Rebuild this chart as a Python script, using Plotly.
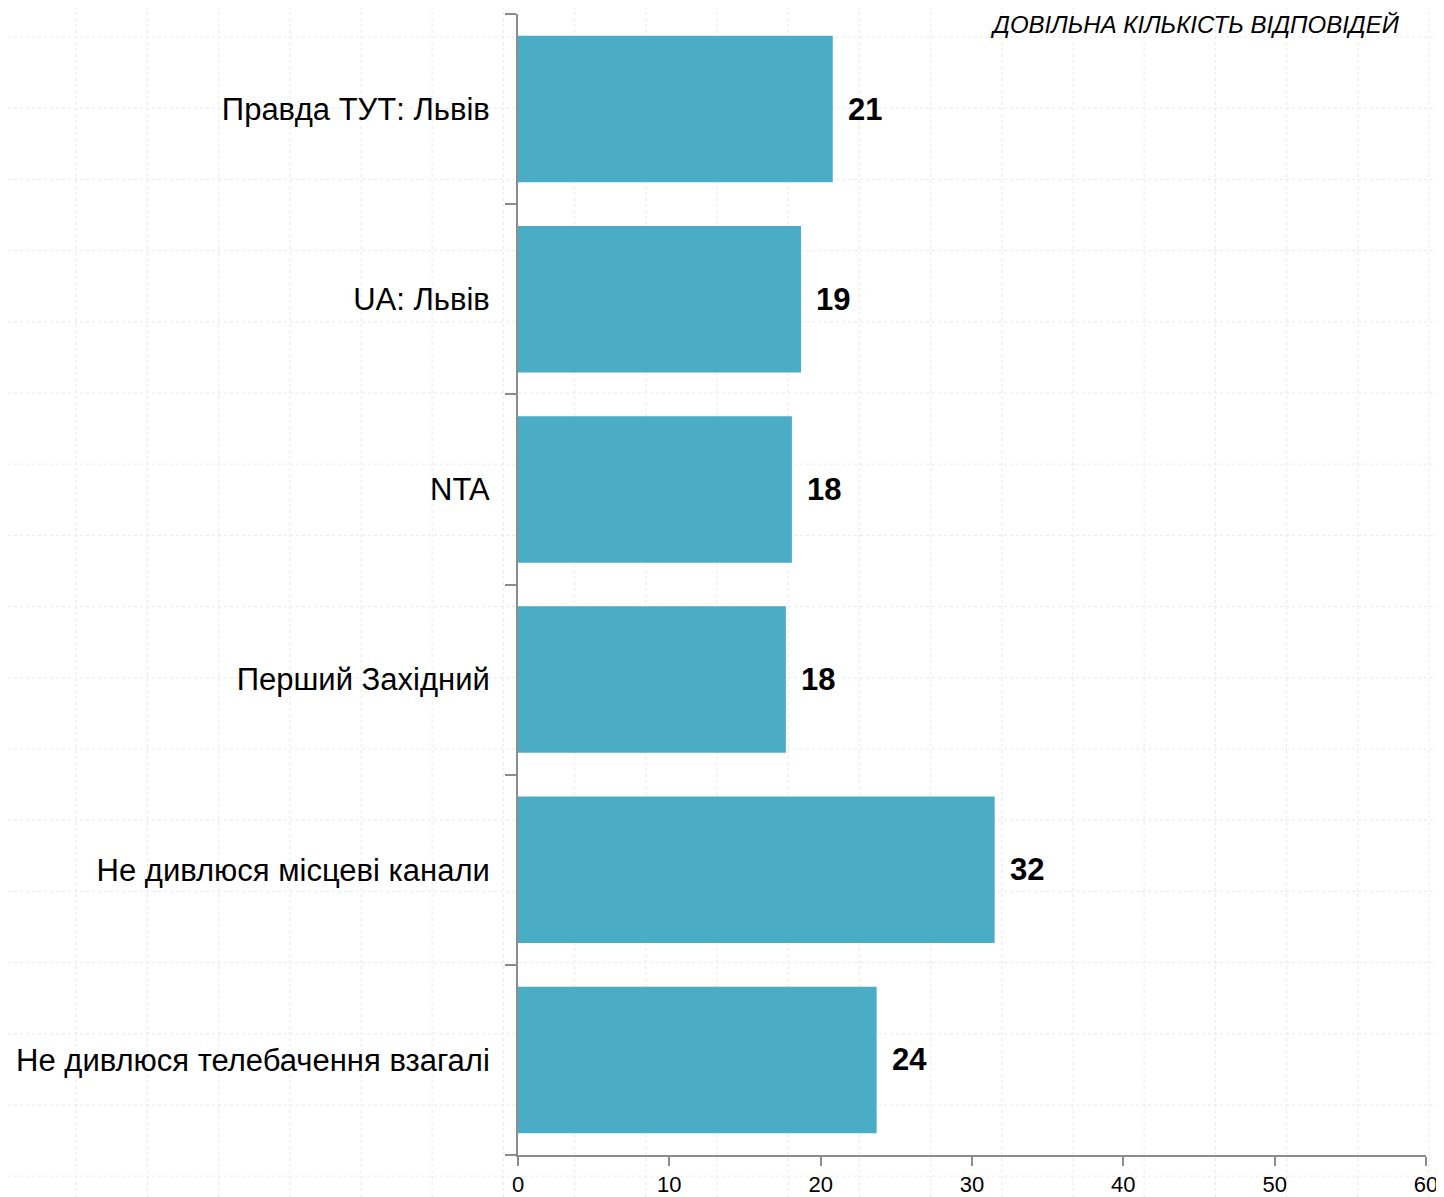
import plotly.graph_objects as go

categories = [
    "Правда ТУТ: Львів",
    "UA: Львів",
    "NTA",
    "Перший Західний",
    "Не дивлюся місцеві канали",
    "Не дивлюся телебачення взагалі",
]
values = [20.8, 18.7, 18.1, 17.7, 31.5, 23.7]
value_labels = ["21", "19", "18", "18", "32", "24"]
x_ticks = [0, 10, 20, 30, 40, 50, 60]
title_text = "ДОВІЛЬНА КІЛЬКІСТЬ ВІДПОВІДЕЙ"

FONT = "Liberation Sans Narrow, Arial Narrow, Liberation Sans, Arial, sans-serif"
BAR_COLOR = "#4BACC6"
AXIS_COLOR = "#8c8c8c"

# page body has an 8px margin; figure placed at (8, 8)
OFF = 8
W, H = 1436, 1189
ML, MT = 518 - OFF, 14 - OFF
MR = W - (1426 - OFF)
MB = H - (1155 - OFF)
PW, PH = W - ML - MR, H - MT - MB

fig = go.Figure()
fig.add_trace(go.Bar(
    x=values,
    y=categories,
    orientation="h",
    marker=dict(color=BAR_COLOR, line=dict(width=0)),
    width=0.77,
    hoverinfo="skip",
))
for v, lab, c in zip(values, value_labels, categories):
    fig.add_annotation(
        x=v, y=c, xref="x", yref="y", text=f"<b>{lab}</b>",
        showarrow=False, xanchor="left", yanchor="middle", xshift=13,
        font=dict(family=FONT, size=31, color="#000000"),
    )

fig.add_annotation(
    x=(1402 - OFF - ML) / PW, y=1, xref="paper", yref="paper", text=f"<i>{title_text}</i>",
    showarrow=False, xanchor="right", yanchor="top", yshift=5,
    font=dict(family="Liberation Sans, Arial, sans-serif", size=24, color="#000000"),
)

# faint graph-paper background texture
shapes = []
step = 71.2
gx = 5.0
while gx < W + OFF:
    xp = (gx - OFF - ML) / PW
    shapes.append(dict(type="line", xref="paper", yref="paper", x0=xp, x1=xp,
                       y0=-MB / PH, y1=1 + MT / PH,
                       line=dict(color="#e9e9e9", width=1, dash="dot"), layer="below"))
    gx += step
gy = 37.0
while gy < H + OFF:
    yp = (H - MB - (gy - OFF)) / PH
    shapes.append(dict(type="line", xref="paper", yref="paper", y0=yp, y1=yp,
                       x0=-ML / PW, x1=1 + MR / PW,
                       line=dict(color="#e9e9e9", width=1, dash="dot"), layer="below"))
    gy += step
fig.update_layout(shapes=shapes)

fig.update_layout(
    width=W,
    height=H,
    margin=dict(l=ML, r=MR, t=MT, b=MB),
    paper_bgcolor="#ffffff",
    plot_bgcolor="rgba(0,0,0,0)",
    showlegend=False,
    bargap=0.23,
)
fig.update_xaxes(
    range=[0, 60],
    tickvals=x_ticks,
    ticktext=[str(t) for t in x_ticks],
    showgrid=False,
    zeroline=False,
    showline=True,
    linecolor=AXIS_COLOR,
    linewidth=2,
    ticks="outside",
    ticklen=9,
    tickwidth=2,
    tickcolor=AXIS_COLOR,
    ticklabelstandoff=0,
    tickfont=dict(family="Liberation Sans, Arial, sans-serif", size=22, color="#000000"),
    automargin=False,
    fixedrange=True,
)
fig.update_yaxes(
    categoryorder="array",
    categoryarray=categories[::-1],
    range=[-0.5, 5.5],
    autorange=False,
    tickson="boundaries",
    showgrid=False,
    zeroline=False,
    showline=True,
    linecolor=AXIS_COLOR,
    linewidth=2,
    ticks="outside",
    ticklen=11,
    tickwidth=2,
    tickcolor=AXIS_COLOR,
    ticklabelstandoff=20,
    tickfont=dict(family=FONT, size=31, color="#000000"),
    automargin=False,
    fixedrange=True,
)

fig.write_html("out.html")
